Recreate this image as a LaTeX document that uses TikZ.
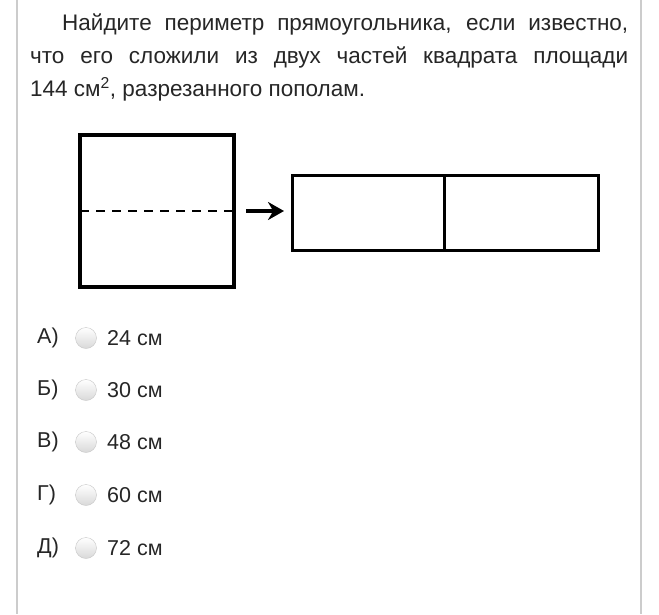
\documentclass[tikz,border=0pt]{standalone}
\usetikzlibrary{arrows.meta}
\usepackage{fontspec}
\setmainfont{Liberation Sans}
\begin{document}
\begin{tikzpicture}[x=1pt,y=-1pt,
  fig/.style={draw=black,line width=3.2pt},
  qline/.style={anchor=base west,inner sep=0pt,font=\fontsize{22.5}{33}\selectfont,text=black!85},
  radio/.style={circle,minimum size=21pt,inner sep=0pt,draw=black!22,top color=white,bottom color=black!15},
  opt/.style={anchor=west,font=\fontsize{21.5}{24}\selectfont,text=black!85,inner sep=0pt}]
\useasboundingbox (0,0) rectangle (659,614);
\fill[white] (0,0) rectangle (659,614);
\draw[black!20,line width=1.2pt] (17,0) -- (17,614);
\draw[black!20,line width=1.2pt] (641,0) -- (641,614);
\node[qline] (q1) at (62,30) {\makebox[566pt][s]{Найдите периметр прямоугольника, если известно,}};
\node[qline] (q2) at (30,63) {\makebox[598pt][s]{что его сложили из двух частей квадрата площади}};
\node[qline] (q3) at (30,96) {144 см\textsuperscript{2}, разрезанного пополам.};
\draw[fig] (80,135) rectangle (234,287);
\coordinate (dl) at (80,211);
\coordinate (dr) at (232,211);
\draw[fig,line width=2.8pt,dash pattern=on 9pt off 7pt] (dl) -- (dr);
\node[fig,minimum width=152pt,minimum height=75pt,inner sep=0pt,anchor=north west] (r1) at (291,174) {};
\node[fig,minimum width=154pt,minimum height=75pt,inner sep=0pt,anchor=north west] (r2) at (443,174) {};
\coordinate (a1) at (246,211);
\coordinate (a2) at (284,211);
\draw[line width=3.5pt,-{Stealth[length=16pt,width=18pt]}] (a1) -- (a2);
\foreach \l/\t/\y [count=\i] in {А)/24/338,Б)/30/390,В)/48/442,Г)/60/495,Д)/72/548}{
  \node[opt] (l\i) at (37,\y) {\l};
  \node[radio] (c\i) at (86,\y) {};
  \node[opt] (t\i) at (107,\y) {\t\ см};
}
\end{tikzpicture}
\end{document}
